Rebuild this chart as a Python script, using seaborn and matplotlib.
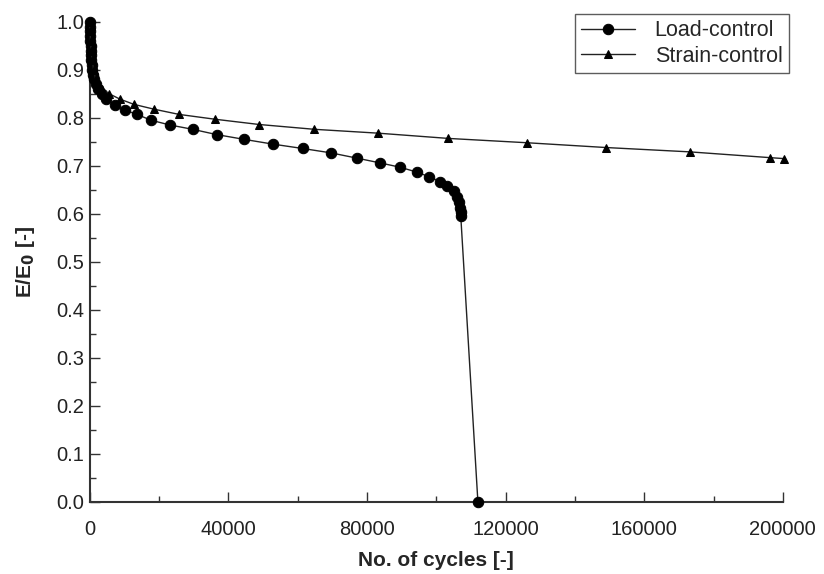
import matplotlib
matplotlib.use("Agg")
import matplotlib.pyplot as plt
import numpy as np
import pandas as pd
import seaborn as sns
from matplotlib.ticker import MultipleLocator

# ----- Data -----

load_cycles = [0, 30, 60, 100, 150, 200, 260, 330, 420, 530, 700, 900, 1200, 1700,
               2400, 3400, 4800, 7220, 10100, 13660, 17620, 23100, 29660, 36590,
               44560, 52940, 61430, 69520, 77030, 83750, 89530, 94300, 97990,
               101080, 103020, 105130, 106080, 106660, 106860, 107060, 107060, 112000]
load_ratio = [1.00, 0.99, 0.98, 0.97, 0.96, 0.95, 0.94, 0.93, 0.92, 0.91, 0.90, 0.89,
              0.88, 0.87, 0.86, 0.85, 0.84, 0.826, 0.816, 0.807, 0.795, 0.785, 0.776,
              0.765, 0.755, 0.745, 0.736, 0.727, 0.716, 0.706, 0.697, 0.687, 0.677,
              0.667, 0.658, 0.648, 0.635, 0.625, 0.613, 0.604, 0.595, 0.0]

strain_cycles = [0, 80, 200, 400, 700, 1100, 1700, 2400, 3400, 5600, 8660, 12710,
                 18480, 25790, 36100, 48900, 64780, 83090, 103480, 126120, 149020,
                 173080, 196190, 200230]
strain_ratio = [1.00, 0.98, 0.96, 0.94, 0.92, 0.90, 0.88, 0.87, 0.86, 0.85, 0.839,
                0.828, 0.818, 0.807, 0.797, 0.786, 0.776, 0.768, 0.757, 0.748, 0.738,
                0.729, 0.717, 0.715]

load_df = pd.DataFrame({'cycles': load_cycles, 'ratio': load_ratio})
strain_df = pd.DataFrame({'cycles': strain_cycles, 'ratio': strain_ratio})

# ----- Figure -----

sns.set_style('ticks')
plt.rcParams['font.family'] = ['Liberation Sans', 'DejaVu Sans']

fig = plt.figure(figsize = (8.24, 5.74), dpi = 100)
ax = fig.add_axes([0.109, 0.126, 0.841, 0.836])

sns.lineplot(data = load_df, x = 'cycles', y = 'ratio', estimator = None, sort = False,
             color = '#222222', linewidth = 1.0, marker = 'o', markersize = 7.5,
             markerfacecolor = 'black', markeredgecolor = 'black', label = 'Load-control',
             clip_on = False, zorder = 3, ax = ax)
sns.lineplot(data = strain_df, x = 'cycles', y = 'ratio', estimator = None, sort = False,
             color = '#222222', linewidth = 1.0, marker = '^', markersize = 6,
             markerfacecolor = 'black', markeredgecolor = 'black', label = 'Strain-control',
             clip_on = False, zorder = 3, ax = ax)

# -- Axes --

ax.set_xlim(0, 200000); ax.set_ylim(0, 1.0)
ax.set_xticks(np.arange(0, 200001, 40000)); ax.set_yticks(np.arange(0, 1.01, 0.1))
ax.xaxis.set_minor_locator(MultipleLocator(20000)); ax.yaxis.set_minor_locator(MultipleLocator(0.05))
ax.set_yticklabels([f'{v:.1f}' for v in np.arange(0, 1.01, 0.1)])

ax.tick_params(axis = 'both', which = 'major', direction = 'in', length = 7, width = 1.0,
               color = '#333333', labelsize = 14.5, labelcolor = '#222222')
ax.tick_params(axis = 'both', which = 'minor', direction = 'in', length = 4, width = 1.0, color = '#333333')
ax.tick_params(axis = 'x', pad = 13); ax.tick_params(axis = 'y', pad = 4)

for side in ['top', 'right']:
    ax.spines[side].set_visible(False)
for side in ['left', 'bottom']:
    ax.spines[side].set_color('#333333'); ax.spines[side].set_linewidth(1.5)

ax.set_xlabel('No. of cycles [-]', fontsize = 15, fontweight = 'bold', labelpad = 9)
ax.set_ylabel(r'E/E$_\mathbf{0}$ [-]', fontsize = 15, fontweight = 'bold', labelpad = 14)

# -- Legend --

leg = ax.legend(loc = 'upper right', bbox_to_anchor = (789 / 824, 1 - 14 / 574),
                bbox_transform = fig.transFigure, borderaxespad = 0, fontsize = 15.5,
                frameon = True, fancybox = False, handlelength = 2.5, handletextpad = 0.9,
                borderpad = 0.3, labelspacing = 0.2)
leg.get_frame().set_edgecolor('#333333'); leg.get_frame().set_linewidth(1.0)

fig.savefig('out.png', dpi = 100)
